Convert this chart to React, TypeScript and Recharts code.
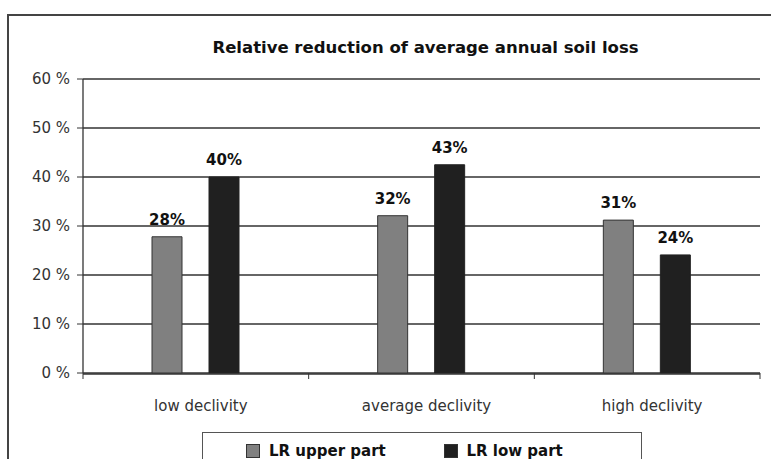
import React from 'react';
import { BarChart, Bar, XAxis, YAxis, CartesianGrid, Legend, LabelList } from 'recharts';

const categories = ['low declivity', 'average declivity', 'high declivity'];
const upperPart = [27.8, 32.1, 31.2];
const lowPart = [40.0, 42.5, 24.1];
const yTicks = [0, 10, 20, 30, 40, 50, 60];
const boundaryTicks = [0, 1, 2, 3];
const seriesOrder = ['upper', 'low'];

const data = categories.map((c, i) => ({ name: c, slot: i + 0.5, upper: upperPart[i], low: lowPart[i] }));

const FONT = '"DejaVu Sans", sans-serif';

const EmptyTick = () => <g />;

const LegendBox = (props: any) => {
  const payload = [...(props.payload || [])]
    .filter((a: any) => seriesOrder.includes(a.dataKey))
    .sort((a: any, b: any) => seriesOrder.indexOf(a.dataKey) - seriesOrder.indexOf(b.dataKey));
  return (
    <div style={{ display: 'flex', paddingLeft: 43, paddingTop: 10, fontFamily: FONT }}>
      {payload.map((p: any) => (
        <div key={p.value} style={{ width: 213, display: 'flex', alignItems: 'center' }}>
          <span
            style={{
              display: 'inline-block',
              width: 12,
              height: 12,
              background: p.color,
              border: '1px solid #333',
              marginRight: 9,
            }}
          />
          <span style={{ fontSize: 15, fontWeight: 'bold', color: '#111', lineHeight: '16px' }}>{p.value}</span>
        </div>
      ))}
    </div>
  );
};

export default function App() {
  return (
    <div
      style={{
        position: 'absolute',
        left: 0,
        top: 0,
        width: 771,
        height: 459,
        overflow: 'hidden',
        background: '#fff',
      }}
    >
      <div
        style={{
          position: 'absolute',
          left: 7,
          top: 14,
          width: 820,
          height: 520,
          border: '2px solid #444',
          boxSizing: 'border-box',
        }}
      />
      <div
        style={{
          position: 'absolute',
          left: 87,
          top: 38,
          width: 677,
          textAlign: 'center',
          fontFamily: FONT,
          fontWeight: 'bold',
          fontSize: 16.5,
          lineHeight: '20px',
          color: '#111',
        }}
      >
        Relative reduction of average annual soil loss
      </div>
      <div style={{ position: 'absolute', left: 0, top: 0 }}>
        <BarChart
          width={771}
          height={459}
          data={data}
          margin={{ top: 79, left: 8, right: 11, bottom: 56 }}
          barGap={27}
        >
          <CartesianGrid vertical={false} stroke="#333" strokeWidth={1.3} xAxisId="cat" />
          <XAxis
            xAxisId="b"
            dataKey="slot"
            type="number"
            domain={[0, 3]}
            ticks={boundaryTicks}
            height={1}
            axisLine={false}
            tick={EmptyTick}
            tickSize={6}
            tickLine={{ stroke: '#333' }}
            allowDataOverflow
            interval={0}
          />
          <XAxis
            xAxisId="cat"
            dataKey="name"
            height={29}
            tickLine={false}
            tickSize={0}
            tickMargin={26}
            axisLine={{ stroke: '#333', strokeWidth: 1.3 }}
            tick={{ fill: '#333', fontSize: 15, fontFamily: FONT, dx: 5 }}
            interval={0}
          />
          <YAxis
            domain={[0, 60]}
            ticks={yTicks}
            width={75}
            tickFormatter={(v: number) => `${v} %`}
            tickSize={6}
            tickMargin={7}
            axisLine={{ stroke: '#333', strokeWidth: 1.3 }}
            tickLine={{ stroke: '#333' }}
            tick={{ fill: '#333', fontSize: 15, fontFamily: FONT }}
            interval={0}
          />
          <YAxis
            yAxisId="right"
            orientation="right"
            domain={[0, 60]}
            width={0}
            tick={false}
            tickLine={false}
            axisLine={{ stroke: '#555', strokeWidth: 1.3 }}
          />
          <Legend
            layout="horizontal"
            verticalAlign="middle"
            align="center"
            content={<LegendBox />}
            wrapperStyle={{
              left: 202,
              top: 432,
              width: 440,
              height: 40,
              border: '1.5px solid #555',
              background: '#fff',
              boxSizing: 'border-box',
            }}
          />
          <Bar
            dataKey="upper"
            name="LR upper part"
            xAxisId="cat"
            fill="#808080"
            stroke="#333"
            strokeWidth={1}
            barSize={30}
            isAnimationActive={false}
          >
            <LabelList
              dataKey="upper"
              position="top"
              offset={12}
              formatter={(v: any) => `${Math.round(Number(v))}%`}
              fill="#111"
              fontSize={15}
              fontWeight="bold"
              fontFamily={FONT}
            />
          </Bar>
          <Bar
            dataKey="low"
            name="LR low part"
            xAxisId="cat"
            fill="#202020"
            stroke="#222"
            strokeWidth={1}
            barSize={30}
            isAnimationActive={false}
          >
            <LabelList
              dataKey="low"
              position="top"
              offset={12}
              formatter={(v: any) => `${Math.round(Number(v))}%`}
              fill="#111"
              fontSize={15}
              fontWeight="bold"
              fontFamily={FONT}
            />
          </Bar>
        </BarChart>
      </div>
    </div>
  );
}
